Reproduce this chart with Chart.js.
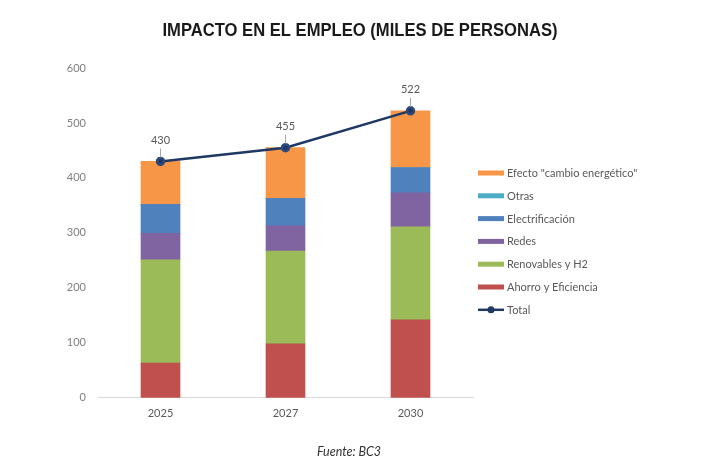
<!DOCTYPE html>
<html>
<head>
<meta charset="utf-8">
<script src="https://cdn.jsdelivr.net/npm/chart.js@4"></script>
<style>
  html, body { margin: 0; padding: 0; background: #fff; }
  #wrap { width: 720px; height: 469px; position: relative; }
</style>
</head>
<body>
<div id="wrap"><canvas id="chart"></canvas></div>
<script>
// datos (miles de personas)
const years = ["2025", "2027", "2030"];
const ahorro = [63, 98, 142];
const renovables = [188, 169, 169];
const redes = [48, 46, 62];
const electrificacion = [53, 50, 46];
const otras = [0, 0, 0];
const efecto = [78, 92, 103];
const total = [430, 455, 522];
const yTicks = [0, 100, 200, 300, 400, 500, 600];

const titleText = "IMPACTO EN EL EMPLEO (MILES DE PERSONAS)";
const sourceText = "Fuente: BC3";

const textGray = "#595959";
const font = "Lato, 'Open Sans', sans-serif";

// título (estrechado para imitar Arial Narrow) y fuente
const textsPlugin = {
  id: "texts",
  afterDraw(chart) {
    const ctx = chart.ctx;
    ctx.save();
    ctx.font = "bold 19px 'Liberation Sans', Arial, sans-serif";
    ctx.fillStyle = "#1a1a1a";
    ctx.textBaseline = "middle";
    const w = ctx.measureText(titleText).width;
    const target = 395;
    ctx.translate(360 - target / 2, 31);
    ctx.scale(target / w, 1);
    ctx.fillText(titleText, 0, 0);
    ctx.restore();

    ctx.save();
    ctx.font = "italic 12.5px " + font;
    ctx.fillStyle = "#333333";
    ctx.textAlign = "center";
    ctx.textBaseline = "middle";
    ctx.fillText(sourceText, 349, 452);
    ctx.restore();
  },
};

// leyenda a la derecha (línea + punto para Total)
const legendPlugin = {
  id: "sideLegend",
  afterDraw(chart) {
    const ctx = chart.ctx;
    const items = chart.data.datasets.slice().sort((a, b) => a.legendOrder - b.legendOrder);
    const x0 = 478, y0 = 173, step = 22.8;
    ctx.save();
    ctx.font = "11px " + font;
    ctx.textBaseline = "middle";
    items.forEach((ds, i) => {
      const y = y0 + i * step;
      if (ds.type === "line") {
        ctx.strokeStyle = ds.borderColor;
        ctx.lineWidth = 2.5;
        ctx.beginPath();
        ctx.moveTo(x0, y);
        ctx.lineTo(x0 + 26, y);
        ctx.stroke();
        ctx.fillStyle = ds.borderColor;
        ctx.beginPath();
        ctx.arc(x0 + 13, y, 3.5, 0, Math.PI * 2);
        ctx.fill();
      } else {
        ctx.fillStyle = ds.backgroundColor;
        ctx.fillRect(x0, y - 2.5, 26, 5);
      }
      ctx.fillStyle = textGray;
      ctx.fillText(ds.label, x0 + 29, y + 0.5);
    });
    ctx.restore();
  },
};

// etiquetas de Total con línea guía
const totalLabels = {
  id: "totalLabels",
  afterDatasetsDraw(chart) {
    const idx = chart.data.datasets.findIndex((d) => d.type === "line");
    const meta = chart.getDatasetMeta(idx);
    const ctx = chart.ctx;
    ctx.save();
    ctx.font = "11px " + font;
    ctx.fillStyle = textGray;
    ctx.textAlign = "center";
    ctx.textBaseline = "middle";
    ctx.strokeStyle = "#a6a6a6";
    ctx.lineWidth = 1;
    meta.data.forEach((pt, i) => {
      const ly = pt.y - 21;
      ctx.fillText(String(total[i]), pt.x, ly);
      ctx.beginPath();
      ctx.moveTo(pt.x, ly + 8);
      ctx.lineTo(pt.x, pt.y - 4);
      ctx.stroke();
    });
    ctx.restore();
  },
};

const bar = (label, data, color, order) => ({
  type: "bar",
  label: label,
  data: data,
  backgroundColor: color,
  borderWidth: 0,
  stack: "s",
  order: 2,
  legendOrder: order,
  barThickness: 39,
});

new Chart(document.getElementById("chart"), {
  data: {
    labels: years,
    datasets: [
      {
        type: "line",
        label: "Total",
        data: total,
        borderColor: "#1F3864",
        backgroundColor: "#1F3864",
        borderWidth: 2.5,
        pointRadius: 3.5,
        pointBackgroundColor: "#1F3864",
        pointBorderColor: "#2E4A7A",
        order: 1,
        legendOrder: 6,
        tension: 0,
      },
      bar("Ahorro y Eficiencia", ahorro, "#C0504D", 5),
      bar("Renovables y H2", renovables, "#9BBB59", 4),
      bar("Redes", redes, "#8064A2", 3),
      bar("Electrificación", electrificacion, "#4F81BD", 2),
      bar("Otras", otras, "#4BACC6", 1),
      bar("Efecto \"cambio energético\"", efecto, "#F79646", 0),
    ],
  },
  options: {
    responsive: true,
    maintainAspectRatio: false,
    animation: false,
    layout: { padding: { top: 68, left: 0, right: 247, bottom: 40 } },
    plugins: {
      legend: { display: false },
      tooltip: { enabled: false },
    },
    scales: {
      x: {
        stacked: true,
        grid: { display: false, drawTicks: false },
        border: { display: true, color: "#d9d9d9", width: 1 },
        ticks: { color: textGray, font: { family: font, size: 11 }, padding: 9 },
      },
      y: {
        stacked: true,
        min: 0,
        max: 600,
        afterFit(scale) { scale.width = 98; },
        afterBuildTicks(scale) { scale.ticks = yTicks.map((v) => ({ value: v })); },
        grid: { display: false, drawTicks: false },
        border: { display: false },
        ticks: { color: "#7f7f7f", font: { family: font, size: 11 }, padding: 12 },
      },
    },
  },
  plugins: [legendPlugin, totalLabels, textsPlugin],
});
</script>
</body>
</html>
